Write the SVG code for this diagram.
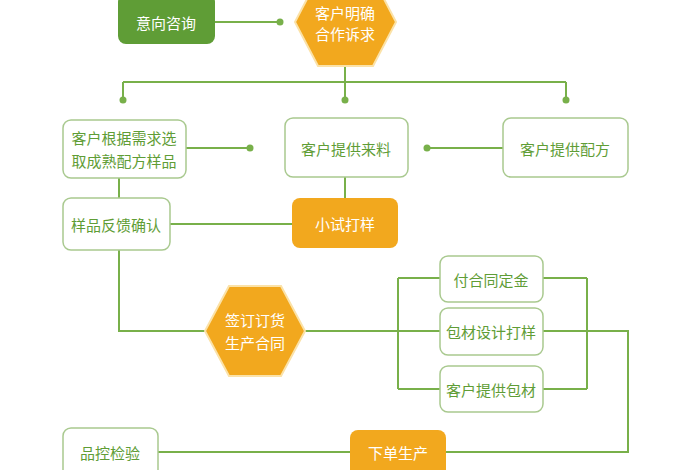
<svg xmlns="http://www.w3.org/2000/svg" width="700" height="470" viewBox="0 0 700 470">
<style>
text{font-family:"Noto Sans CJK SC","Noto Sans",sans-serif;font-size:15px;text-anchor:middle;dominant-baseline:central}
.b{fill:#fff;stroke:#a9c98f;stroke-width:1.5}
.g{fill:#5f9d36;text-anchor:middle}
.o{fill:#f2a81e;stroke:#fbe2a8;stroke-width:2}
.w{fill:#fff}
.c{fill:none;stroke:#78b04a;stroke-width:2}
.d{fill:#78b04a}
</style>
<rect width="700" height="470" fill="#fff"/>
<g id="connectors">
<path class="c" d="M215 22H280M345 66V82M123 82H566M123 82V100M345 82V100M566 82V100M186 148H250M503 148H427M119 178V200M345 177V200M170 224H292M119 250V331H205M305 331H628V452H446M350 452H158M398 278V389M587 278V389M398 278H440M543 278H587M398 389H440M543 389H587"/>
<circle class="d" cx="280" cy="22" r="3.5"/><circle class="d" cx="123" cy="100" r="3.5"/><circle class="d" cx="345" cy="100" r="3.5"/><circle class="d" cx="566" cy="100" r="3.5"/><circle class="d" cx="250" cy="148" r="3.5"/><circle class="d" cx="427" cy="148" r="3.5"/>
</g>
<g id="n1"><rect x="118" y="-6" width="97" height="50" rx="8" fill="#5f9d36"/><text class="w" x="166" y="22">意向咨询</text></g>
<g id="n2"><polygon class="o" points="318,-22 373,-22 396,22 373,66 318,66 295,22"/><text class="w" x="345" y="12">客户明确</text><text class="w" x="345" y="33">合作诉求</text></g>
<g id="n3"><rect class="b" x="63" y="120" width="123" height="58" rx="8"/><text class="g" x="124" y="137">客户根据需求选</text><text class="g" x="124" y="160">取成熟配方样品</text></g>
<g id="n4"><rect class="b" x="285" y="118" width="123" height="59" rx="8"/><text class="g" x="346" y="148">客户提供来料</text></g>
<g id="n5"><rect class="b" x="503" y="118" width="125" height="59" rx="8"/><text class="g" x="565" y="148">客户提供配方</text></g>
<g id="n6"><rect class="b" x="63" y="198" width="107" height="52" rx="8"/><text class="g" x="116" y="224">样品反馈确认</text></g>
<g id="n7"><rect x="292" y="198" width="106" height="50" rx="8" fill="#f2a81e"/><text class="w" x="345" y="223">小试打样</text></g>
<g id="n8"><polygon class="o" points="229,286 281,286 305,331 281,376 229,376 205,331"/><text class="w" x="255" y="319">签订订货</text><text class="w" x="255" y="342">生产合同</text></g>
<g id="n9"><rect class="b" x="440" y="256" width="103" height="46" rx="8"/><text class="g" x="491" y="279">付合同定金</text></g>
<g id="n10"><rect class="b" x="440" y="308" width="103" height="47" rx="8"/><text class="g" x="491" y="331">包材设计打样</text></g>
<g id="n11"><rect class="b" x="440" y="366" width="103" height="46" rx="8"/><text class="g" x="491" y="389">客户提供包材</text></g>
<g id="n12"><rect x="350" y="430" width="96" height="50" rx="8" fill="#f2a81e"/><text class="w" x="398" y="452">下单生产</text></g>
<g id="n13"><rect class="b" x="63" y="428" width="95" height="50" rx="8"/><text class="g" x="110" y="452">品控检验</text></g>
</svg>
